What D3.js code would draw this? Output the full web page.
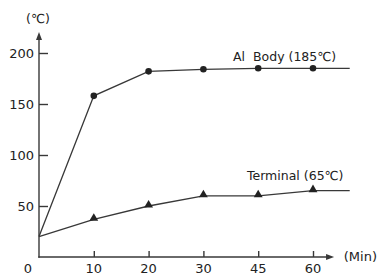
<!DOCTYPE html>
<html><head><meta charset="utf-8">
<script src="https://cdn.jsdelivr.net/npm/d3@7"></script>
<style>
html,body{margin:0;padding:0;background:#fff;}
svg{display:block;}
text{font-family:"DejaVu Sans",sans-serif;fill:#222;}
</style></head>
<body>
<svg id="c" width="379" height="277"></svg>
<script>
const timeLabels = ["0","10","20","30","45","60"];
const alBody = [20,158,182,184,185,185];
const terminal = [20,37,50,60,60,65];
const yTicks = [50,100,150,200];
const alLabel = "Al\u00a0\u00a0Body (185\u2103)";
const termLabel = "Terminal (65\u2103)";

const svg = d3.select("#c");
const x = d3.scaleLinear().domain([0,5]).range([39,313]);
const y = d3.scaleLinear().domain([0,200]).range([257,53]);
const ink = "#383838";
const lineEndIdx = 5.67, axisEndIdx = 5.33;

// y axis
const yAxis = svg.append("g").attr("transform","translate(39,0)")
  .call(d3.axisRight(y).tickValues(yTicks).tickSize(9).tickFormat(""));
yAxis.select(".domain").remove();
yAxis.selectAll("line").attr("stroke",ink).attr("stroke-width",1.4);
svg.append("line").attr("x1",39).attr("x2",39).attr("y1",y(0)+0.7).attr("y2",36)
  .attr("stroke",ink).attr("stroke-width",1.4);
svg.append("path").attr("d",`M39,32 L36,40 L42,40 Z`).attr("fill",ink);
svg.selectAll(".ylab").data(yTicks).enter().append("text")
  .attr("x",34).attr("y",d=>y(d)).attr("dy","0.36em").attr("text-anchor","end")
  .attr("font-size",13).text(d=>d);
svg.append("text").attr("x",38).attr("y",23).attr("text-anchor","middle")
  .attr("font-size",12.5).text("(\u2103)");

// x axis
const xIdx = d3.range(1,timeLabels.length);
const xAxis = svg.append("g").attr("transform",`translate(0,${y(0)})`)
  .call(d3.axisTop(x).tickValues(xIdx).tickSize(6).tickFormat(""));
xAxis.select(".domain").remove();
xAxis.selectAll("line").attr("stroke",ink).attr("stroke-width",1.4);
svg.append("line").attr("x1",38.3).attr("x2",x(axisEndIdx)-4).attr("y1",y(0)).attr("y2",y(0))
  .attr("stroke",ink).attr("stroke-width",1.5);
svg.append("path").attr("d",`M${x(axisEndIdx)+3},${y(0)} L${x(axisEndIdx)-5},${y(0)-3} L${x(axisEndIdx)-5},${y(0)+3} Z`).attr("fill",ink);
svg.selectAll(".xlab").data(timeLabels).enter().append("text")
  .attr("x",(d,i)=> i===0 ? 28 : x(i)).attr("y",268).attr("dy","0.36em")
  .attr("text-anchor","middle").attr("font-size",13).text(d=>d);
svg.append("text").attr("x",377).attr("y",256).attr("dy","0.36em")
  .attr("text-anchor","end").attr("font-size",13).text("(Min)");

// lines
function series(vals){
  const pts = vals.map((v,i)=>[x(i),y(v)]);
  pts.push([x(lineEndIdx), y(vals[vals.length-1])]);
  return pts;
}
const line = d3.line();
svg.append("path").attr("d",line(series(alBody))).attr("fill","none")
  .attr("stroke",ink).attr("stroke-width",1.3);
svg.append("path").attr("d",line(series(terminal))).attr("fill","none")
  .attr("stroke",ink).attr("stroke-width",1.3);

// markers
svg.selectAll(".cm").data(alBody.slice(1)).enter().append("circle")
  .attr("cx",(d,i)=>x(i+1)).attr("cy",d=>y(d)).attr("r",3.3).attr("fill","#222");
const tri = d3.symbol().type(d3.symbolTriangle).size(34);
svg.selectAll(".tm").data(terminal.slice(1)).enter().append("path")
  .attr("d",tri).attr("transform",(d,i)=>`translate(${x(i+1)},${y(d)-1})`).attr("fill","#222");

// labels
svg.append("text").attr("x",233).attr("y",61).attr("font-size",12.5).text(alLabel);
svg.append("text").attr("x",247).attr("y",180).attr("font-size",12.5).text(termLabel);
</script>
</body></html>
